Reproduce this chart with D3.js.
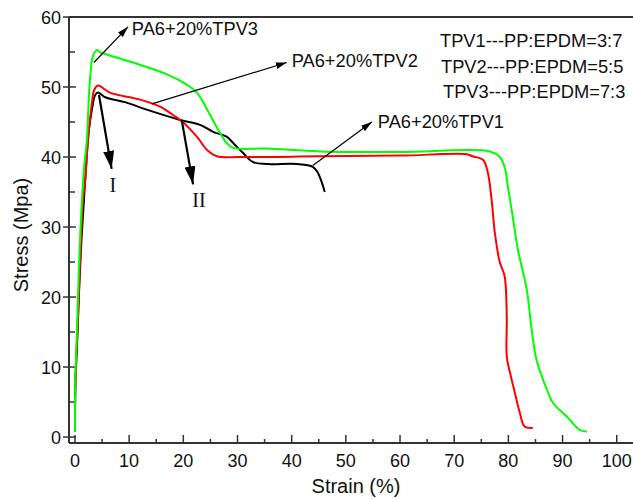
<!DOCTYPE html>
<html>
<head>
<meta charset="utf-8">
<script src="https://cdn.jsdelivr.net/npm/d3@7"></script>
<style>
  body { margin: 0; background: #fff; }
  text { font-family: Arial, "Liberation Sans", sans-serif; }
</style>
</head>
<body>
<script>

// stress-strain curves, [strain %, stress MPa]
let tpv1 = [
  [0, 0.8], [0.09, 7.5], [0.42, 13.9], [0.77, 21.0], [1.2, 28.2], [1.66, 33.9],
  [2.12, 39.6], [2.58, 43.9], [3.14, 46.8], [3.69, 48.8], [4.24, 49.2], [5.7, 48.5],
  [9.4, 47.8], [13.1, 46.8], [19.4, 45.3], [23.1, 44.6], [25.5, 43.6], [28.0, 42.9],
  [29.2, 42.0], [31.0, 40.6], [32.8, 39.3], [35.4, 39.0], [41.0, 39.0], [43.9, 38.6],
  [44.8, 37.8], [45.6, 36.3], [46.1, 35.0]
];

let tpv2 = [
  [0, 0.8], [0.09, 8.2], [0.46, 15.3], [0.74, 21.0], [1.1, 28.2], [1.48, 33.9],
  [1.9, 36.8], [2.4, 42.5], [2.77, 45.3], [3.14, 47.8], [3.56, 49.6], [4.24, 50.2],
  [6.46, 49.2], [12.0, 48.2], [15.7, 47.2], [18.1, 46.0], [19.9, 45.0], [22.5, 42.9],
  [24.4, 41.0], [26.2, 40.1], [30.4, 40.0], [45.2, 40.1], [60.0, 40.2], [72.3, 40.4],
  [73.4, 40.1], [75.3, 39.6], [76.2, 37.8], [76.9, 33.9], [77.5, 29.2], [78.4, 25.0],
  [79.3, 23.0], [79.7, 17.2], [79.7, 11.5], [80.3, 9.2], [81.2, 6.3], [82.1, 3.5],
  [83.0, 1.5], [84.5, 1.3]
];

let tpv3 = [
  [0, 0.8], [0.06, 7.8], [0.37, 15.3], [0.68, 22.9], [1.1, 31.0], [1.66, 38.2],
  [2.2, 42.5], [2.64, 49.6], [2.95, 52.5], [3.27, 54.3], [4.06, 55.3], [4.6, 55.0],
  [10.7, 53.5], [17.0, 51.8], [20.7, 50.3], [22.5, 49.2], [24.4, 46.8], [26.2, 44.2],
  [28.0, 42.0], [29.2, 41.3], [35.4, 41.2], [45.2, 40.8], [60.0, 40.7], [76.6, 40.8],
  [78.4, 40.0], [79.3, 38.6], [79.9, 35.8], [80.8, 31.5], [81.7, 27.0], [83.4, 21.0],
  [84.3, 15.3], [85.2, 11.0], [87.1, 6.8], [88.2, 4.9], [90.8, 2.9], [93.2, 1.0],
  [94.5, 0.8]
];

let seriesColors = ["#000000", "#ff0000", "#00ff00"];

let xTicks = [0, 10, 20, 30, 40, 50, 60, 70, 80, 90, 100];
let yTicks = [0, 10, 20, 30, 40, 50, 60];

let curveLabels = ["PA6+20%TPV1", "PA6+20%TPV2", "PA6+20%TPV3"];
let legendLines = ["TPV1---PP:EPDM=3:7", "TPV2---PP:EPDM=5:5", "TPV3---PP:EPDM=7:3"];
let stageLabels = ["I", "II"];


let width = 633;
let height = 499;
let margin = ({top: 17, right: 0, bottom: 56, left: 69});

// scales
let x = d3.scaleLinear()
  .domain([-1.1, 103])
  .range([margin.left, width - margin.right]);

let y = d3.scaleLinear()
  .domain([-0.85, 60])
  .range([height - margin.bottom, margin.top]);

let svg = d3.select("body")
  .append("svg")
  .attr("width", width)
  .attr("height", height);

// arrow heads
let defs = svg.append("defs");
defs.append("marker")
    .attr("id", "thin")
    .attr("viewBox", "0 0 10 6")
    .attr("refX", 10).attr("refY", 3)
    .attr("markerUnits", "userSpaceOnUse")
    .attr("markerWidth", 11).attr("markerHeight", 7)
    .attr("orient", "auto")
  .append("path")
    .attr("d", "M0,0L10,3L0,6Z")
    .attr("fill", "#000");

defs.append("marker")
    .attr("id", "thick")
    .attr("viewBox", "0 0 18 11")
    .attr("refX", 18).attr("refY", 5.5)
    .attr("markerUnits", "userSpaceOnUse")
    .attr("markerWidth", 18).attr("markerHeight", 11)
    .attr("orient", "auto")
  .append("path")
    .attr("d", "M0,0L18,5.5L0,11Z")
    .attr("fill", "#000");

let axisColor = "#333";
let y0 = y(-0.85);

// x axis, ticks pointing up into the plot
let gx = svg.append("g");
gx.append("line")
  .attr("x1", margin.left).attr("x2", width)
  .attr("y1", y0).attr("y2", y0)
  .attr("stroke", axisColor).attr("stroke-width", 2);

gx.selectAll("line.minor")
  .data(xTicks.slice(0, -1).map(d => d + 5))
  .join("line")
    .attr("class", "minor")
    .attr("x1", d => x(d)).attr("x2", d => x(d))
    .attr("y1", y0).attr("y2", y0 - 4)
    .attr("stroke", axisColor).attr("stroke-width", 1.5);

gx.selectAll("line.major")
  .data(xTicks)
  .join("line")
    .attr("class", "major")
    .attr("x1", d => x(d)).attr("x2", d => x(d))
    .attr("y1", y0).attr("y2", y0 - 8)
    .attr("stroke", axisColor).attr("stroke-width", 1.5);

gx.selectAll("text")
  .data(xTicks)
  .join("text")
    .attr("x", d => x(d))
    .attr("y", 467)
    .attr("text-anchor", "middle")
    .attr("font-size", 18)
    .attr("fill", "#111")
    .text(d => d);

// y axis
let gy = svg.append("g");
gy.append("line")
  .attr("x1", margin.left).attr("x2", margin.left)
  .attr("y1", margin.top).attr("y2", y0)
  .attr("stroke", axisColor).attr("stroke-width", 2);

// frame top
gy.append("line")
  .attr("x1", margin.left).attr("x2", width)
  .attr("y1", margin.top).attr("y2", margin.top)
  .attr("stroke", axisColor).attr("stroke-width", 2);

gy.selectAll("line.minor")
  .data(yTicks.slice(0, -1).map(d => d + 5))
  .join("line")
    .attr("class", "minor")
    .attr("x1", margin.left).attr("x2", margin.left + 6)
    .attr("y1", d => y(d)).attr("y2", d => y(d))
    .attr("stroke", axisColor).attr("stroke-width", 1.5);

gy.selectAll("line.major")
  .data(yTicks)
  .join("line")
    .attr("class", "major")
    .attr("x1", margin.left - 6).attr("x2", margin.left + 7)
    .attr("y1", d => y(d)).attr("y2", d => y(d))
    .attr("stroke", axisColor).attr("stroke-width", 1.5);

gy.selectAll("text")
  .data(yTicks)
  .join("text")
    .attr("x", 61)
    .attr("y", d => y(d) + 6.5)
    .attr("text-anchor", "end")
    .attr("font-size", 18)
    .attr("fill", "#111")
    .text(d => d);

// axis titles
svg.append("text")
  .attr("x", 356).attr("y", 493)
  .attr("text-anchor", "middle")
  .attr("font-size", 20)
  .attr("fill", "#111")
  .text("Strain (%)");

svg.append("text")
  .attr("transform", "translate(28,235) rotate(-90)")
  .attr("text-anchor", "middle")
  .attr("font-size", 20)
  .attr("fill", "#111")
  .text("Stress (Mpa)");

// curves
let line = d3.line()
  .curve(d3.curveCatmullRom.alpha(0.5))
  .x(d => x(d[0]))
  .y(d => y(d[1]));

svg.append("g")
    .attr("fill", "none")
    .attr("stroke-width", 2)
    .attr("stroke-linejoin", "round")
  .selectAll("path")
  .data([tpv1, tpv2, tpv3])
  .join("path")
    .attr("stroke", (d, i) => seriesColors[i])
    .attr("d", line);

// label arrows, in data coordinates
let labelArrows = [
  {from: [43.9, 38.8], to: [54.8, 45.0], at: [55.9, 44.2]},
  {from: [14.2, 47.6], to: [39.1, 53.5], at: [40.0, 52.9]},
  {from: [3.5, 53.5], to: [9.8, 58.6], at: [10.5, 57.4]}
];

let ann = svg.append("g");
ann.selectAll("line.lab")
  .data(labelArrows)
  .join("line")
    .attr("class", "lab")
    .attr("x1", d => x(d.from[0])).attr("y1", d => y(d.from[1]))
    .attr("x2", d => x(d.to[0])).attr("y2", d => y(d.to[1]))
    .attr("stroke", "#000").attr("stroke-width", 1.2)
    .attr("marker-end", "url(#thin)");

ann.selectAll("text.lab")
  .data(labelArrows)
  .join("text")
    .attr("class", "lab")
    .attr("x", d => x(d.at[0])).attr("y", d => y(d.at[1]))
    .attr("font-size", 18.3)
    .attr("fill", "#111")
    .text((d, i) => curveLabels[i]);

// stage arrows I and II
let stageArrows = [
  {from: [4.43, 48.9], to: [6.77, 38.3], at: [7.0, 35.0]},
  {from: [19.7, 45.3], to: [21.8, 36.1], at: [22.9, 32.8]}
];

ann.selectAll("line.stage")
  .data(stageArrows)
  .join("line")
    .attr("class", "stage")
    .attr("x1", d => x(d.from[0])).attr("y1", d => y(d.from[1]))
    .attr("x2", d => x(d.to[0])).attr("y2", d => y(d.to[1]))
    .attr("stroke", "#000").attr("stroke-width", 2.2)
    .attr("marker-end", "url(#thick)");

ann.selectAll("text.stage")
  .data(stageArrows)
  .join("text")
    .attr("class", "stage")
    .attr("x", d => x(d.at[0])).attr("y", d => y(d.at[1]))
    .attr("text-anchor", "middle")
    .style("font-family", "'Liberation Serif', 'Times New Roman', serif")
    .attr("font-size", 20)
    .attr("fill", "#111")
    .text((d, i) => stageLabels[i]);

// composition notes, top right
svg.append("g")
  .selectAll("text")
  .data(legendLines)
  .join("text")
    .attr("x", (d, i) => [440, 441, 443][i])
    .attr("y", (d, i) => 47 + i * 25.5)
    .attr("font-size", 18.3)
    .attr("fill", "#111")
    .text(d => d);

</script>
</body>
</html>
